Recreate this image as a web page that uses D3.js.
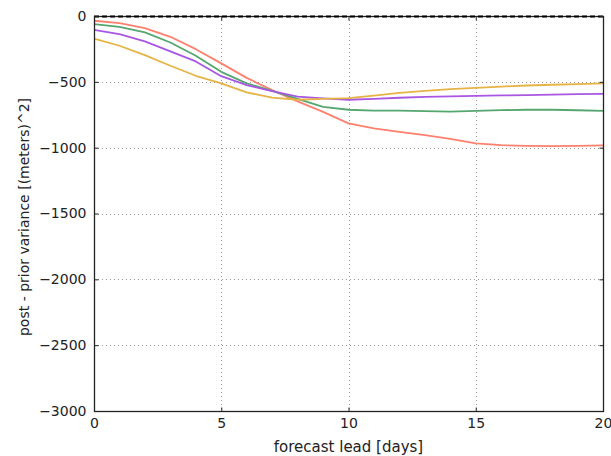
<!DOCTYPE html>
<html><head><meta charset="utf-8">
<script src="https://cdn.jsdelivr.net/npm/d3@7"></script>
<style>body{margin:0;background:#fff;} svg{display:block;font-family:"DejaVu Sans",sans-serif;}</style>
</head><body>
<script>
const days = d3.range(0, 21);
const seriesRed    = [-36,-54,-92,-158,-252,-360,-470,-563,-648,-728,-816,-854,-880,-905,-933,-968,-981,-986,-989,-986,-983];
const seriesGreen  = [-62,-82,-125,-201,-302,-424,-512,-568,-630,-690,-712,-718,-718,-722,-726,-720,-715,-712,-712,-716,-720];
const seriesPurple = [-105,-138,-193,-269,-345,-457,-525,-570,-612,-626,-636,-630,-621,-614,-610,-606,-603,-601,-597,-594,-592];
const seriesYellow = [-172,-226,-297,-378,-454,-512,-580,-620,-636,-630,-624,-604,-584,-568,-556,-546,-536,-528,-522,-517,-512];
const series = [
  {name:"red", values:seriesRed, color:"#ff806e"},
  {name:"green", values:seriesGreen, color:"#55a66f"},
  {name:"purple", values:seriesPurple, color:"#a957e2"},
  {name:"yellow", values:seriesYellow, color:"#e6b345"}
];
const xTicks = [0,5,10,15,20];
const yTicks = [0,-500,-1000,-1500,-2000,-2500,-3000];

const W=611,H=456;
const m={left:94,right:603,top:16,bottom:411};
const svg=d3.select("body").append("svg").attr("width",W).attr("height",H);
const x=d3.scaleLinear().domain([0,20]).range([m.left,m.right]);
const y=d3.scaleLinear().domain([-3000,0]).range([m.bottom,m.top]);

// grid
const g=svg.append("g");
g.selectAll(".gx").data(xTicks.filter(t=>t>0&&t<20)).enter().append("line")
 .attr("x1",d=>Math.round(x(d))+0.5).attr("x2",d=>Math.round(x(d))+0.5)
 .attr("y1",m.top).attr("y2",m.bottom)
 .attr("stroke","#999").attr("stroke-width",1).attr("stroke-dasharray","1,3");
g.selectAll(".gy").data(yTicks.filter(t=>t<0&&t>-3000)).enter().append("line")
 .attr("y1",d=>Math.round(y(d))+0.5).attr("y2",d=>Math.round(y(d))+0.5)
 .attr("x1",m.left).attr("x2",m.right)
 .attr("stroke","#999").attr("stroke-width",1).attr("stroke-dasharray","1,3");

// lines
const line=d3.line().x((d,i)=>x(days[i])).y(d=>y(d));
series.forEach(s=>{
  svg.append("path").datum(s.values).attr("d",line)
   .attr("fill","none").attr("stroke",s.color).attr("stroke-width",1.8)
   .attr("stroke-linejoin","round");
});

// frame
svg.append("rect").attr("x",m.left+0.5).attr("y",m.top+0.5)
 .attr("width",m.right-m.left).attr("height",m.bottom-m.top)
 .attr("fill","none").attr("stroke","#222").attr("stroke-width",1.3);
// zero dashed line
svg.append("line").attr("x1",m.left).attr("x2",m.right)
 .attr("y1",y(0)+0.5).attr("y2",y(0)+0.5)
 .attr("stroke","#000").attr("stroke-width",1.8).attr("stroke-dasharray","5,3");

// axes with inward ticks
const fmt=d=>d<0?"\u2212"+Math.abs(d):String(d);
const ax=svg.append("g").attr("transform",`translate(0,${m.bottom+0.5})`)
 .call(d3.axisBottom(x).tickValues(xTicks).tickSize(-4).tickPadding(7).tickFormat(fmt));
const axT=svg.append("g").attr("transform",`translate(0,${m.top+0.5})`)
 .call(d3.axisTop(x).tickValues(xTicks).tickSize(-4).tickFormat(""));
const ay=svg.append("g").attr("transform",`translate(${m.left+0.5},0)`)
 .call(d3.axisLeft(y).tickValues(yTicks).tickSize(-4).tickPadding(8).tickFormat(fmt));
const ayR=svg.append("g").attr("transform",`translate(${m.right+0.5},0)`)
 .call(d3.axisRight(y).tickValues(yTicks).tickSize(-4).tickFormat(""));
[ax,axT,ay,ayR].forEach(a=>{
  a.select(".domain").remove();
  a.selectAll(".tick line").attr("stroke","#222");
  a.selectAll("text").attr("font-size",14).attr("fill","#222").attr("font-family","DejaVu Sans");
});

svg.append("text").attr("x",348.5).attr("y",452)
 .attr("text-anchor","middle").attr("font-size",15).attr("fill","#222").text("forecast lead [days]");
svg.append("text").attr("transform",`translate(29,217) rotate(-90)`)
 .attr("text-anchor","middle").attr("font-size",14).attr("fill","#222").text("post - prior variance [(meters)^2]");
</script>
</body></html>
